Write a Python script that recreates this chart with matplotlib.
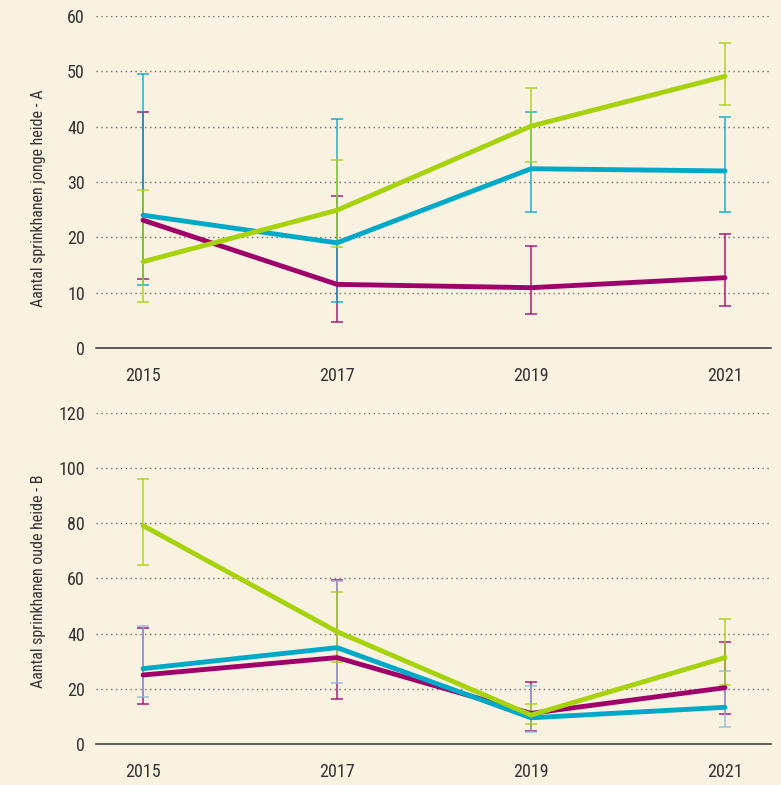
"""
Aantal sprinkhanen op jonge en oude heide, 2015-2021.
Two stacked line charts with error bars.
"""

import matplotlib
matplotlib.use("Agg")
import matplotlib.pyplot as plt
from matplotlib import font_manager

# pick a narrow family if one is installed, else plain sans
names = {f.name for f in font_manager.fontManager.ttflist}
narrow = [n for n in ["Roboto Condensed", "Liberation Sans Narrow",
                      "Open Sans Condensed", "Noto Sans Condensed",
                      "DejaVu Sans Condensed"] if n in names]
plt.rcParams["font.family"] = narrow + ["Roboto", "DejaVu Sans"]
plt.rcParams["font.stretch"] = "condensed"

# ── Data ───────────────────────────────────────────────────
years = [2015, 2017, 2019, 2021]

# Panel A: jonge heide
a_cyan = [24.0, 19.0, 32.4, 32.0]
a_cyan_lo = [11.4, 8.3, 24.5, 24.5]
a_cyan_hi = [49.5, 41.4, 42.7, 41.8]

a_magenta = [23.1, 11.5, 10.9, 12.7]
a_magenta_lo = [12.4, 4.7, 6.1, 7.6]
a_magenta_hi = [42.7, 27.4, 18.4, 20.6]

a_green = [15.6, 24.9, 40.1, 49.1]
a_green_lo = [8.3, 18.2, 33.7, 43.9]
a_green_hi = [28.5, 33.9, 47.0, 55.1]

# Panel B: oude heide
b_cyan = [27.3, 34.9, 9.5, 13.3]
b_cyan_lo = [17.1, 22.0, 4.2, 6.3]
b_cyan_hi = [42.7, 59.0, 21.0, 26.4]

b_magenta = [25.0, 31.3, 11.1, 20.4]
b_magenta_lo = [14.5, 16.2, 4.8, 10.8]
b_magenta_hi = [42.0, 59.4, 22.5, 36.9]

b_green = [79.1, 40.7, 10.5, 31.3]
b_green_lo = [64.9, 29.8, 7.1, 21.5]
b_green_hi = [96.0, 55.1, 14.4, 45.4]

BG = "#faf2e1"
CYAN = "#00a9c8"
MAGENTA = "#a0006a"
GREEN = "#a6d20e"
TEXT = "#333333"


def draw_series(ax, y, lo, hi, color, bar_color, alpha=0.75):
    yerr = [[v - l for v, l in zip(y, lo)], [h - v for v, h in zip(y, hi)]]
    ax.errorbar(years, y, yerr=yerr, fmt="none", ecolor=bar_color,
                elinewidth=1.3, capsize=4.3, capthick=1.3, alpha=alpha,
                zorder=2)
    ax.plot(years, y, color=color, linewidth=3.5, solid_capstyle="round",
            zorder=3)


def style_axis(ax, ymax, step, ylabel, label_y):
    ax.set_facecolor(BG)
    ax.set_xlim(2014.515, 2021.474)
    ax.set_ylim(0, ymax)
    ax.set_xticks(years)
    ax.set_yticks(range(0, ymax + 1, step))
    for v in range(step, ymax + 1, step):
        ax.axhline(v, color="#6e6e6e", linewidth=1.0, linestyle=(0, (1, 2.5)),
                   zorder=1)
    for side in ["top", "right", "left"]:
        ax.spines[side].set_visible(False)
    ax.spines["bottom"].set_color(TEXT)
    ax.spines["bottom"].set_linewidth(1.1)
    ax.spines["bottom"].set_zorder(4)
    fs = 13 if narrow else 11.5
    ax.tick_params(axis="both", length=0, labelsize=fs, colors=TEXT)
    ax.tick_params(axis="x", pad=14)
    ax.tick_params(axis="y", pad=8)
    ax.set_ylabel(ylabel, fontsize=11.5 if narrow else 10.5, color=TEXT)
    ax.yaxis.set_label_coords(-0.074, label_y)


fig = plt.figure(figsize=(7.81, 7.85), dpi=100, facecolor=BG)
ax_a = fig.add_axes([0.1229, 0.5567, 0.8643, 0.4229])
ax_b = fig.add_axes([0.1229, 0.0522, 0.8643, 0.4221])

style_axis(ax_a, 60, 10, "Aantal sprinkhanen jonge heide - A", 0.45)
draw_series(ax_a, a_magenta, a_magenta_lo, a_magenta_hi, MAGENTA, MAGENTA)
draw_series(ax_a, a_cyan, a_cyan_lo, a_cyan_hi, CYAN, CYAN)
draw_series(ax_a, a_green, a_green_lo, a_green_hi, GREEN, GREEN)

style_axis(ax_b, 120, 20, "Aantal sprinkhanen oude heide - B", 0.49)
draw_series(ax_b, b_magenta, b_magenta_lo, b_magenta_hi, MAGENTA, MAGENTA)
draw_series(ax_b, b_cyan, b_cyan_lo, b_cyan_hi, CYAN, "#8fb8de")
draw_series(ax_b, b_green, b_green_lo, b_green_hi, GREEN, GREEN)

fig.savefig("out.png", dpi=100, facecolor=BG)
